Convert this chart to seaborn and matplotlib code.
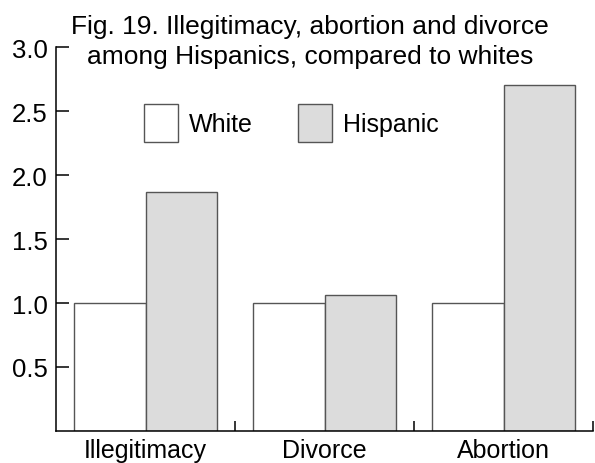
import pandas as pd
import matplotlib
matplotlib.use("Agg")
import matplotlib.pyplot as plt
import seaborn as sns

# values (ratio to whites)
categories = ["Illegitimacy", "Divorce", "Abortion"]
white = [1.0, 1.0, 1.0]
hispanic = [1.87, 1.06, 2.70]
y_ticks = [0.5, 1.0, 1.5, 2.0, 2.5, 3.0]

data = pd.DataFrame({
    "Category": categories * 2,
    "Ratio": white + hispanic,
    "Group": ["White"] * 3 + ["Hispanic"] * 3,
})

sns.set_style("ticks")
plt.rcParams["font.family"] = ["Liberation Sans Narrow", "Liberation Sans", "DejaVu Sans"]
plt.rcParams["text.color"] = "black"
plt.rcParams["xtick.color"] = "black"
plt.rcParams["ytick.color"] = "black"
plt.rcParams["xtick.labelcolor"] = "black"
plt.rcParams["ytick.labelcolor"] = "black"

f = plt.figure(figsize=(5.95, 4.64), dpi=100)
ax = f.add_axes([56 / 595, 1 - 432 / 464, 537 / 595, 384 / 464])

sns.barplot(
    x="Category",
    y="Ratio",
    hue="Group",
    data=data,
    order=categories,
    hue_order=["White", "Hispanic"],
    palette={"White": "white", "Hispanic": "#dcdcdc"},
    edgecolor="#555555",
    linewidth=1.0,
    width=0.8,
    ax=ax,
)

ax.set_xlim(-0.5, 2.5)
ax.set_ylim(0, 3.0)
ax.set_yticks(y_ticks)
ax.set_yticklabels([f"{v:.1f}" for v in y_ticks], fontsize=18.5)
ax.set_xticks(range(len(categories)))
ax.set_xticklabels(categories, fontsize=18)
ax.set_xticks([0.5, 1.5, 2.5], minor=True)
ax.tick_params(axis="x", which="major", length=0, pad=5)
ax.tick_params(axis="x", which="minor", direction="in", length=7, width=1.1, color="black")
ax.tick_params(axis="y", direction="in", length=9.5, width=1.1, color="black", pad=6)
ax.set_xlabel("")
ax.set_ylabel("")
sns.despine(ax=ax)
for s in ["left", "bottom"]:
    ax.spines[s].set_linewidth(1.1)
    ax.spines[s].set_color("black")

ax.legend(
    loc="center left",
    bbox_to_anchor=(144 / 595, 1 - 124 / 464),
    bbox_transform=f.transFigure,
    ncol=2,
    frameon=False,
    fontsize=18,
    handlelength=1.36,
    handleheight=1.96,
    handletextpad=0.45,
    columnspacing=1.8,
    borderpad=0,
    borderaxespad=0,
)

f.text(
    310 / 595, 1 - 15 / 464,
    "Fig. 19. Illegitimacy, abortion and divorce\namong Hispanics, compared to whites",
    ha="center", va="top", fontsize=19, linespacing=1.3,
)

f.savefig("out.png", dpi=100)
